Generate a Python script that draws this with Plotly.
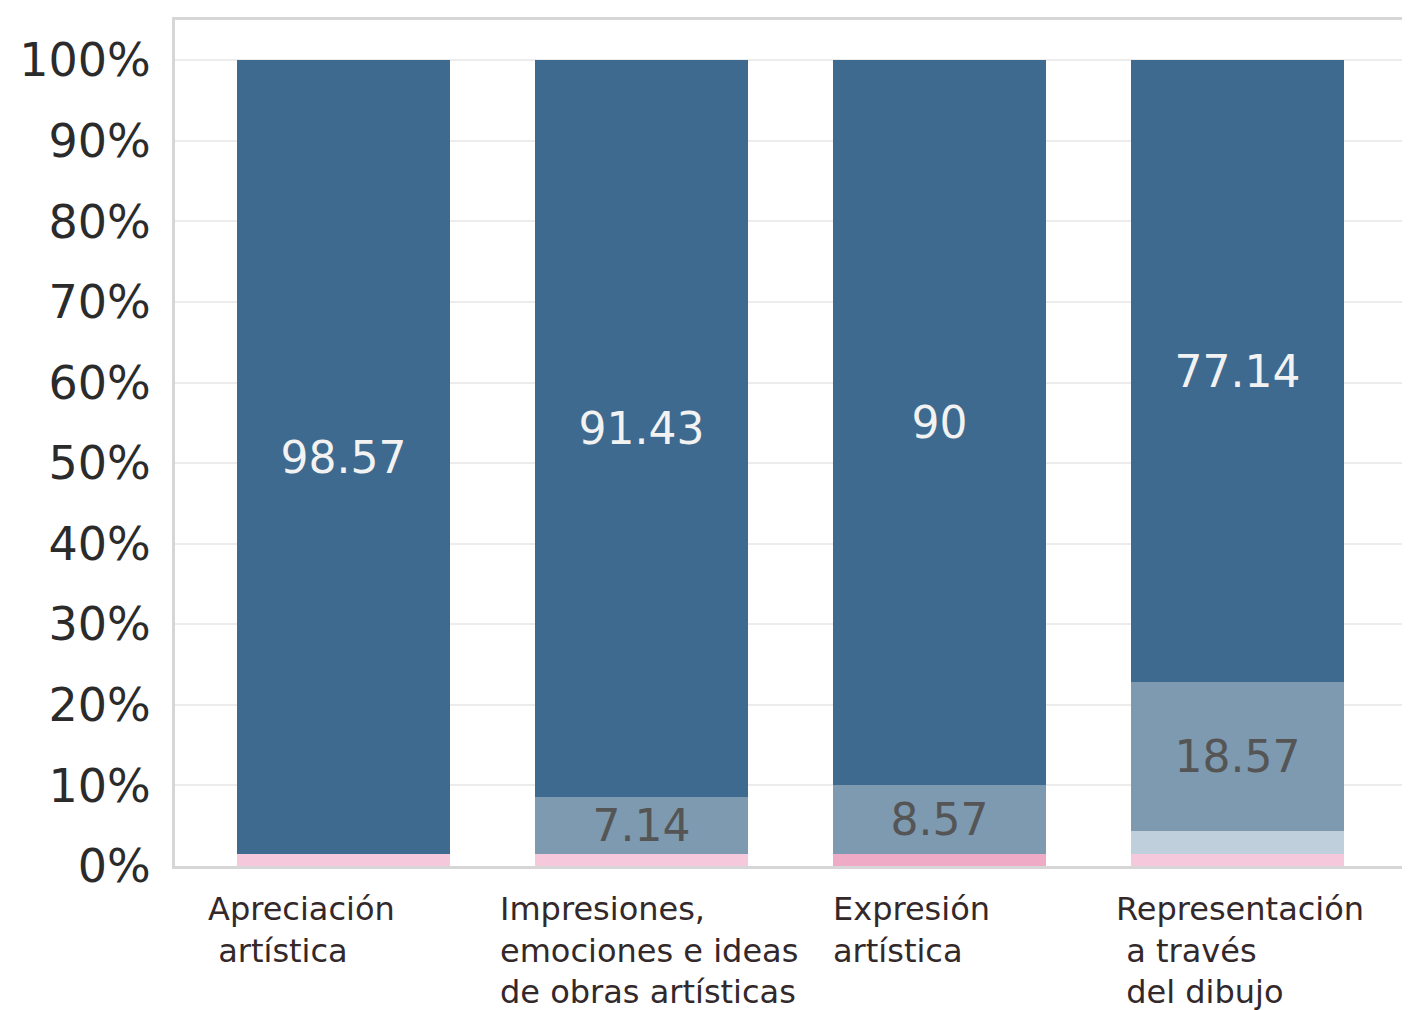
import plotly.graph_objects as go

categories = ["Apreciación artística",
              "Impresiones, emociones e ideas de obras artísticas",
              "Expresión artística",
              "Representación a través del dibujo"]
label_lines = [["Apreciación", "\u00a0artística"],
               ["Impresiones,", "emociones e ideas", "de obras artísticas"],
               ["Expresión", "artística"],
               ["Representación", "\u00a0a través", "\u00a0del dibujo"]]

pink_light = [1.43, 1.43, 0, 1.43]
pink_dark = [0, 0, 1.43, 0]
light_blue = [0, 0, 0, 2.86]
medium_blue = [0, 7.14, 8.57, 18.57]
dark_blue = [98.57, 91.43, 90, 77.14]

series = [
    ("Nivel 1", pink_dark, "#efaac5", False, None),
    ("Nivel 1 ", pink_light, "#f5c9db", False, None),
    ("Nivel 2", light_blue, "#bfd0dc", False, None),
    ("Nivel 3", medium_blue, "#7d9ab0", True, "#555555"),
    ("Nivel 4", dark_blue, "#3d6a8e", True, "#f2f2f2"),
]

x_idx = list(range(len(categories)))
fig = go.Figure()
for name, vals, color, show_text, tcolor in series:
    txt = [("%g" % v) if (show_text and v > 0) else "" for v in vals]
    fig.add_trace(go.Bar(
        x=x_idx, y=vals, name=name, marker=dict(color=color, line=dict(width=0)),
        text=txt, textposition="inside", insidetextanchor="middle", textangle=0,
        textfont=dict(family="DejaVu Sans", size=44, color=tcolor or "#555555"),
        width=0.717, showlegend=False, hoverinfo="y",
    ))

shifts = [-137, -143, -109, -124]
for i, lines in enumerate(label_lines):
    fig.add_annotation(
        x=i, y=0, xref="x", yref="paper", xanchor="left", yanchor="top",
        xshift=shifts[i], yshift=-22, align="left", showarrow=False,
        text="<br>".join(lines),
        font=dict(family="DejaVu Sans", size=32, color="#33282a"),
    )

fig.update_layout(
    barmode="stack",
    width=1410, height=1010,
    margin=dict(l=167, r=10, t=9, b=152),
    paper_bgcolor="white", plot_bgcolor="white",
    uniformtext=dict(minsize=44, mode="show"),
)
fig.update_xaxes(
    range=[-0.565, 3.565], tickvals=x_idx, showticklabels=False,
    showgrid=False, zeroline=False,
    showline=True, linecolor="#d6d6d6", linewidth=3, mirror=True,
)
fig.update_yaxes(
    range=[0, 105], tickvals=[0, 10, 20, 30, 40, 50, 60, 70, 80, 90, 100],
    ticktext=["0%", "10%", "20%", "30%", "40%", "50%", "60%", "70%", "80%", "90%", "100%"],
    tickfont=dict(family="DejaVu Sans", size=46, color="#2b2b2b"),
    ticks="outside", ticklen=12, tickcolor="rgba(0,0,0,0)",
    showgrid=True, gridcolor="#ececec", gridwidth=2, zeroline=False,
    showline=True, linecolor="#d6d6d6", linewidth=3, mirror=True,
)

fig.write_html("out.html")
